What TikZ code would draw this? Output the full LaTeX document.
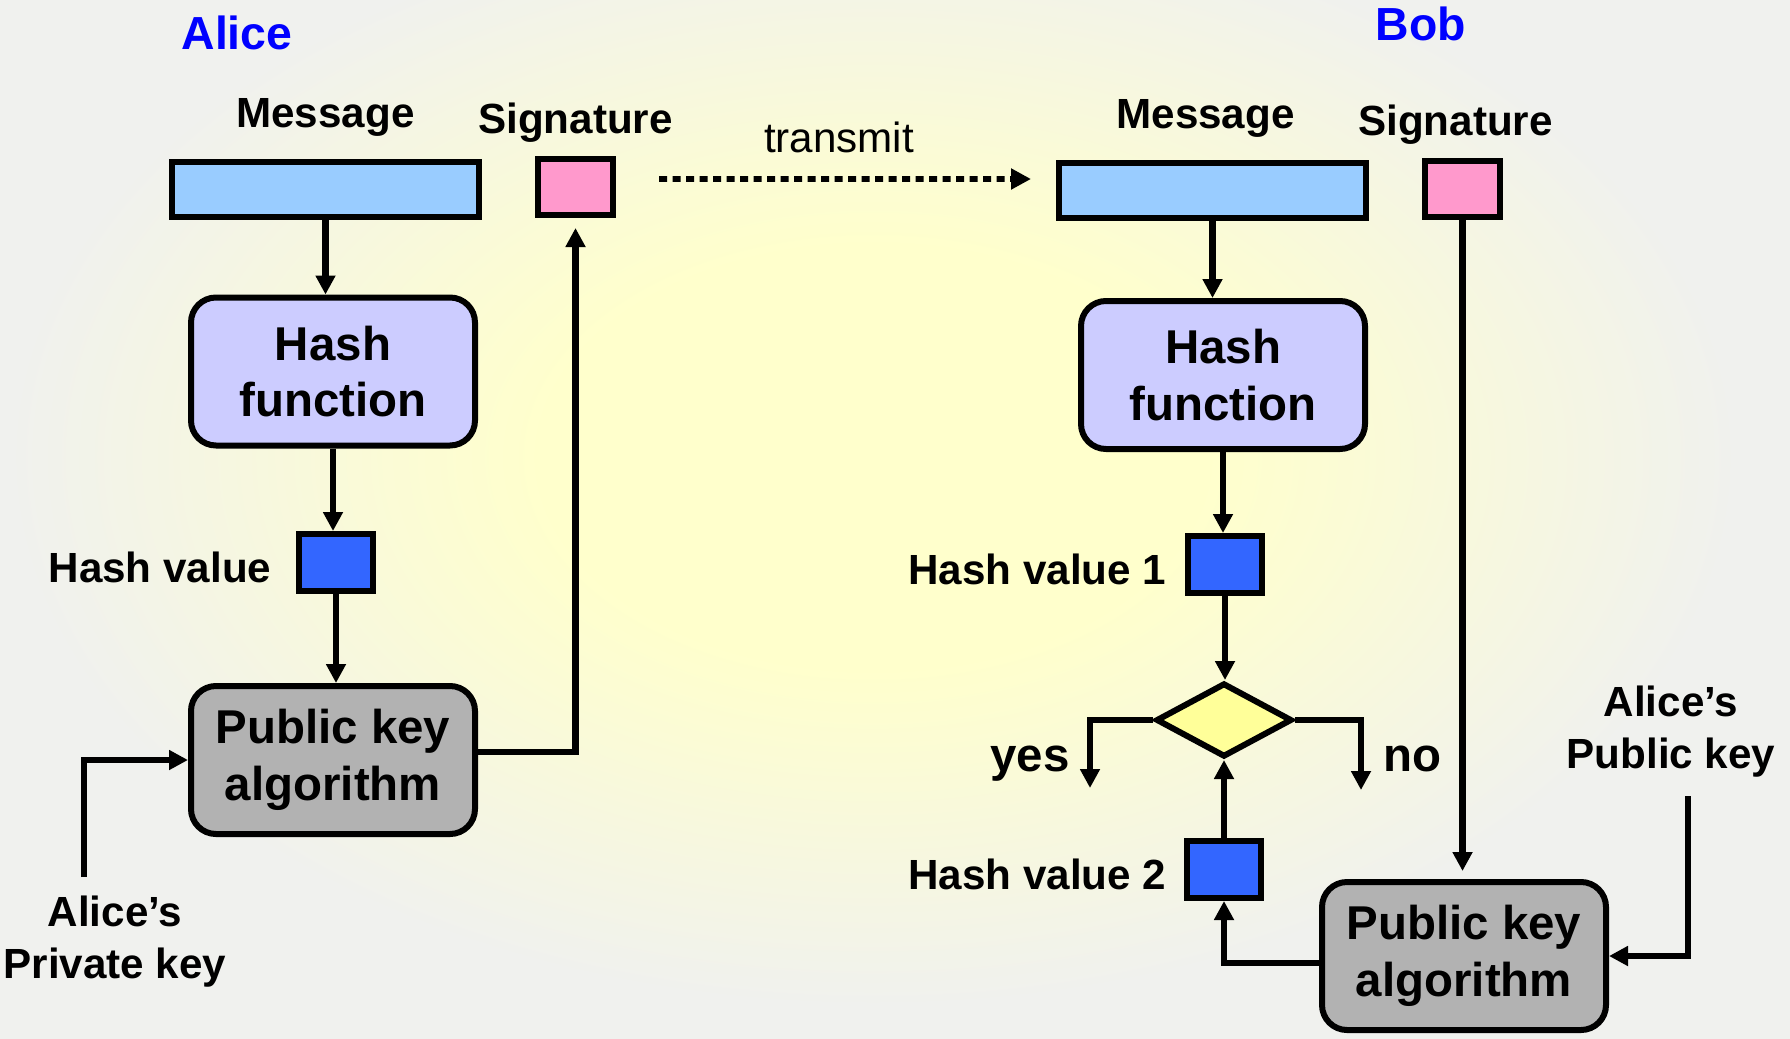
\documentclass[tikz,border=0pt]{standalone}
\usepackage{fontspec}
\setmainfont{Liberation Sans}
\usetikzlibrary{arrows.meta}
\usetikzlibrary{positioning}
\usetikzlibrary{shapes.geometric}

\definecolor{msgblue}{HTML}{99CCFF}
\definecolor{sigpink}{HTML}{FF99CC}
\definecolor{hashlilac}{HTML}{CCCCFF}
\definecolor{valblue}{HTML}{3366FF}
\definecolor{keygrey}{HTML}{B2B2B2}
\definecolor{testyellow}{HTML}{FFFF99}
\definecolor{bgyellow}{HTML}{FFFFCC}
\definecolor{bggrey}{HTML}{F0F1EE}
\definecolor{whoblue}{HTML}{0000FF}

\pgfdeclareradialshading{bgglow}{\pgfpoint{0bp}{0bp}}{color(0bp)=(bgyellow); color(9bp)=(bgyellow); color(23.5bp)=(bggrey); color(50bp)=(bggrey)}

\begin{document}
\begin{tikzpicture}[
  >={Triangle[length=1.9mm,width=1.9mm]},
  tag/.style={inner sep=0pt,font=\bfseries\fontsize{12}{14.8}\selectfont},
  who/.style={inner sep=0pt,text=whoblue,font=\bfseries\fontsize{13.2}{15}\selectfont},
  block/.style={draw,line width=0.6mm,inner sep=0pt},
  msgbar/.style={block,fill=msgblue,minimum width=3.07cm,minimum height=0.55cm},
  sigbox/.style={block,fill=sigpink,minimum width=0.75cm,minimum height=0.56cm},
  valbox/.style={block,fill=valblue,minimum width=0.74cm,minimum height=0.57cm},
  procbox/.style={block,rounded corners=2.5mm,minimum width=2.84cm,minimum height=1.48cm,
    align=center,font=\bfseries\fontsize{13.5}{16.2}\selectfont},
  hashbox/.style={procbox,fill=hashlilac},
  keybox/.style={procbox,fill=keygrey},
  testbox/.style={diamond,block,fill=testyellow,minimum width=1.36cm,minimum height=0.74cm},
  flow/.style={line width=0.62mm,->},
  sendline/.style={line width=0.57mm,dash pattern=on 0.8mm off 0.55mm,
    -{Triangle[length=2mm,width=2mm]}}
]
\useasboundingbox (0,0) rectangle (17.9,10.38);
% background glow, a little left of and above the middle
\fill[bggrey] (0,0) rectangle (17.9,10.38);
\begin{scope}
  \clip (0,0) rectangle (17.9,10.38);
  \shade[shading=bgglow] (-0.47,-0.04) rectangle (17.93,11.66);
\end{scope}

% sender
\node[who,anchor=base] (alice) at (2.37,9.88) {Alice};
\node[msgbar] (msgA) at (3.255,8.485) {};
\node[sigbox] (sigA) at (5.755,8.51) {};
\node[tag,above=2.2mm of msgA] (msgAlbl) {Message};
\node[tag,above=1.3mm of sigA] (sigAlbl) {Signature};
\node[hashbox] (hashA) at (3.33,6.665) {Hash\\function};
\node[valbox] (hvA) at (3.36,4.755) {};
\node[tag,left=2.4mm of hvA,yshift=-0.5mm] (hvAlbl) {Hash value};
\node[keybox] (pkA) at (3.33,2.78) {Public key\\algorithm};
\node[tag,align=center] (privkey) at (1.15,0.96) {Alice’s\\Private key};
\coordinate (privin) at (0.84,1.61);

% receiver
\node[who,anchor=base] (bob) at (14.21,9.97) {Bob};
\node[msgbar] (msgB) at (12.125,8.48) {};
\node[sigbox] (sigB) at (14.625,8.495) {};
\node[tag,above=2.1mm of msgB,xshift=-0.7mm] (msgBlbl) {Message};
\node[tag,above=1.2mm of sigB,xshift=-0.7mm] (sigBlbl) {Signature};
\node[hashbox] (hashB) at (12.23,6.63) {Hash\\function};
\node[valbox] (hv1) at (12.25,4.735) {};
\node[tag,left=1.8mm of hv1,yshift=-0.5mm] (hv1lbl) {Hash value 1};
\node[testbox] (dia) at (12.24,3.18) {};
\node[valbox] (hv2) at (12.24,1.685) {};
\node[tag,left=1.7mm of hv2,yshift=-0.5mm] (hv2lbl) {Hash value 2};
\node[keybox] (pkB) at (14.64,0.82) {Public key\\algorithm};
\node[tag,align=center] (pubkey) at (16.71,3.06) {Alice’s\\Public key};
\coordinate (pubin) at (16.88,2.42);
\coordinate (yesout) at (10.90,2.50);
\coordinate (noout) at (13.61,2.48);
\node[tag,anchor=base,font=\bfseries\fontsize{13.5}{16}\selectfont] (yes) at (10.30,2.67) {yes};
\node[tag,anchor=base,font=\bfseries\fontsize{13.5}{16}\selectfont] (no) at (14.12,2.67) {no};

% transmission
\node[tag,anchor=base,font=\fontsize{12}{14}\selectfont] (send) at (8.39,8.86) {transmit};
\draw[sendline] ([xshift=4.3mm,yshift=0.8mm]sigA.east) -- ([xshift=-2.5mm,yshift=1.1mm]msgB.west);

% straight downward flows
\foreach \a/\b in {msgA/hashA,hashA/hvA,hvA/pkA,msgB/hashB,hashB/hv1,hv1/dia}
  \draw[flow] (\a.south) -- (\a.south |- \b.north);

\draw[flow] (privin) |- (pkA.west);
\draw[flow,shorten >=1mm] ([yshift=0.8mm]pkA.east) -| (sigA.south);
\draw[flow] (dia.west) -| (yesout);
\draw[flow] (dia.east) -| (noout);
\draw[flow] (hv2.north) -- (dia.south);
\draw[flow,shorten >=0.8mm] (sigB.south) -- (sigB.south |- pkB.north);
\draw[flow] (pubin) |- (pkB.east);
\draw[flow] ([yshift=-0.7mm]pkB.west) -| (hv2.south);
\end{tikzpicture}
\end{document}
